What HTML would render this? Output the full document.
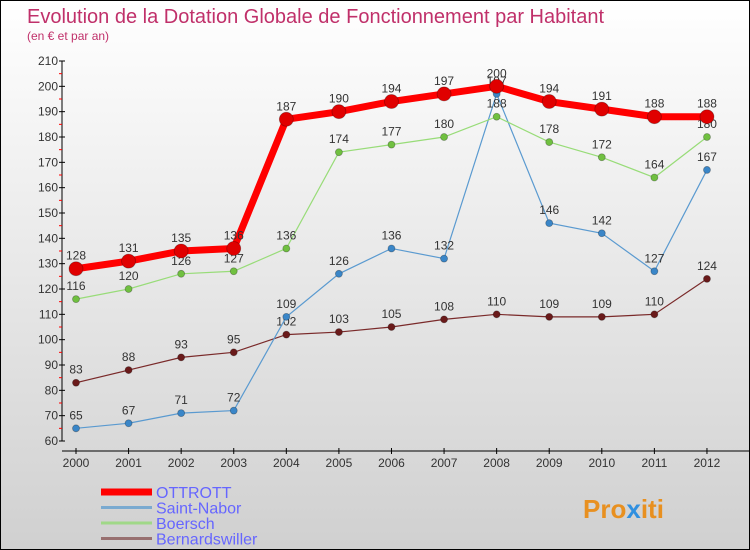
<!DOCTYPE html>
<html><head><meta charset="utf-8"><style>
body{margin:0}
#c{width:748px;height:548px;border:1px solid #000;background:linear-gradient(#fff,#d0d0d0);position:relative;font-family:"Liberation Sans",sans-serif;overflow:hidden}
</style></head><body>
<div id="c">
<svg id="s" width="748" height="548" style="position:absolute;left:0;top:0">
<text x="26" y="22" font-size="20" fill="#c0306a">Evolution de la Dotation Globale de Fonctionnement par Habitant</text>
<text x="26" y="39" font-size="12" fill="#c0306a">(en € et par an)</text>
<g id="axes"></g><g id="series"></g><g id="legend"></g>
<text x="582" y="517" font-size="26" font-weight="bold" fill="#e89020">Pro<tspan fill="#3090e0">x</tspan>iti</text>
</svg></div>
<script>
const years=[2000,2001,2002,2003,2004,2005,2006,2007,2008,2009,2010,2011,2012];
const ottrott=[128,131,135,136,187,190,194,197,200,194,191,188,188];
const saintNabor=[65,67,71,72,109,126,136,132,197,146,142,127,167];
const boersch=[116,120,126,127,136,174,177,180,188,178,172,164,180];
const bernardswiller=[83,88,93,95,102,103,105,108,110,109,109,110,124];
const yTicks=[60,70,80,90,100,110,120,130,140,150,160,170,180,190,200,210];
const NS='http://www.w3.org/2000/svg';
const x=i=>75+i*52.58, y=v=>440-(v-60)*380/150;
function mk(t,a,p){const e=document.createElementNS(NS,t);for(const k in a)e.setAttribute(k,a[k]);p.appendChild(e);return e;}
const ax=document.getElementById('axes');
let e=mk('line',{x1:61,y1:60,x2:61,y2:440,stroke:'#000'},ax);

e=mk('line',{x1:61,y1:450,x2:748,y2:450,stroke:'#000'},ax);

yTicks.forEach((v,i)=>{
 mk('line',{x1:58,y1:y(v),x2:64,y2:y(v),stroke:'#000'},ax);
 if(i<yTicks.length-1)mk('line',{x1:58,y1:y(v+5),x2:61,y2:y(v+5),stroke:'#f00'},ax);
 const t=mk('text',{x:57,y:y(v)+4,'font-size':12,'text-anchor':'end',fill:'#333'},ax);t.textContent=v;
 
});
years.forEach((yr,i)=>{
 mk('line',{x1:x(i),y1:447,x2:x(i),y2:453,stroke:'#000'},ax);
 const t=mk('text',{x:x(i),y:466,'font-size':12,'text-anchor':'middle',fill:'#333'},ax);t.textContent=yr;
 
});
const sg=document.getElementById('series');
const defs=[[bernardswiller,'#7a2a2a','#6a1a1a',1.2,3.5,'bernardswiller'],[saintNabor,'#5a9ad0','#3a86c8',1.2,3.5,'saint-nabor'],[boersch,'#98dc78','#70c040',1.2,3.5,'boersch'],[ottrott,'#f00','#e00000',7,7,'ottrott']];
defs.forEach(([d,c,fc,w,r,n])=>{
 const g=mk('g',{},sg);
 const p=mk('polyline',{points:d.map((v,i)=>x(i)+','+y(v)).join(' '),fill:'none',stroke:c,'stroke-width':w},g);
 
 d.forEach((v,i)=>{
  const m=mk('circle',{cx:x(i),cy:y(v),r:r,fill:fc,stroke:'rgba(0,0,0,0.3)','stroke-width':0.8},g);
  
  const t=mk('text',{x:x(i),y:y(v)-9,'font-size':12,'text-anchor':'middle',fill:'#333'},g);t.textContent=v;
  
 });
});
const lg=document.getElementById('legend');
[['OTTROTT','#f00',7],['Saint-Nabor','#7aaad0',3],['Boersch','#a0d888',3],['Bernardswiller','#987070',3]].forEach(([n,c,w],i)=>{
 const yy=491+i*15.5;
 const l=mk('line',{x1:100,y1:yy,x2:151,y2:yy,stroke:c,'stroke-width':w},lg);
 
 const t=mk('text',{x:155,y:yy+6,'font-size':16,fill:'#6666ff'},lg);t.textContent=n;
 
});
</script></body></html>
